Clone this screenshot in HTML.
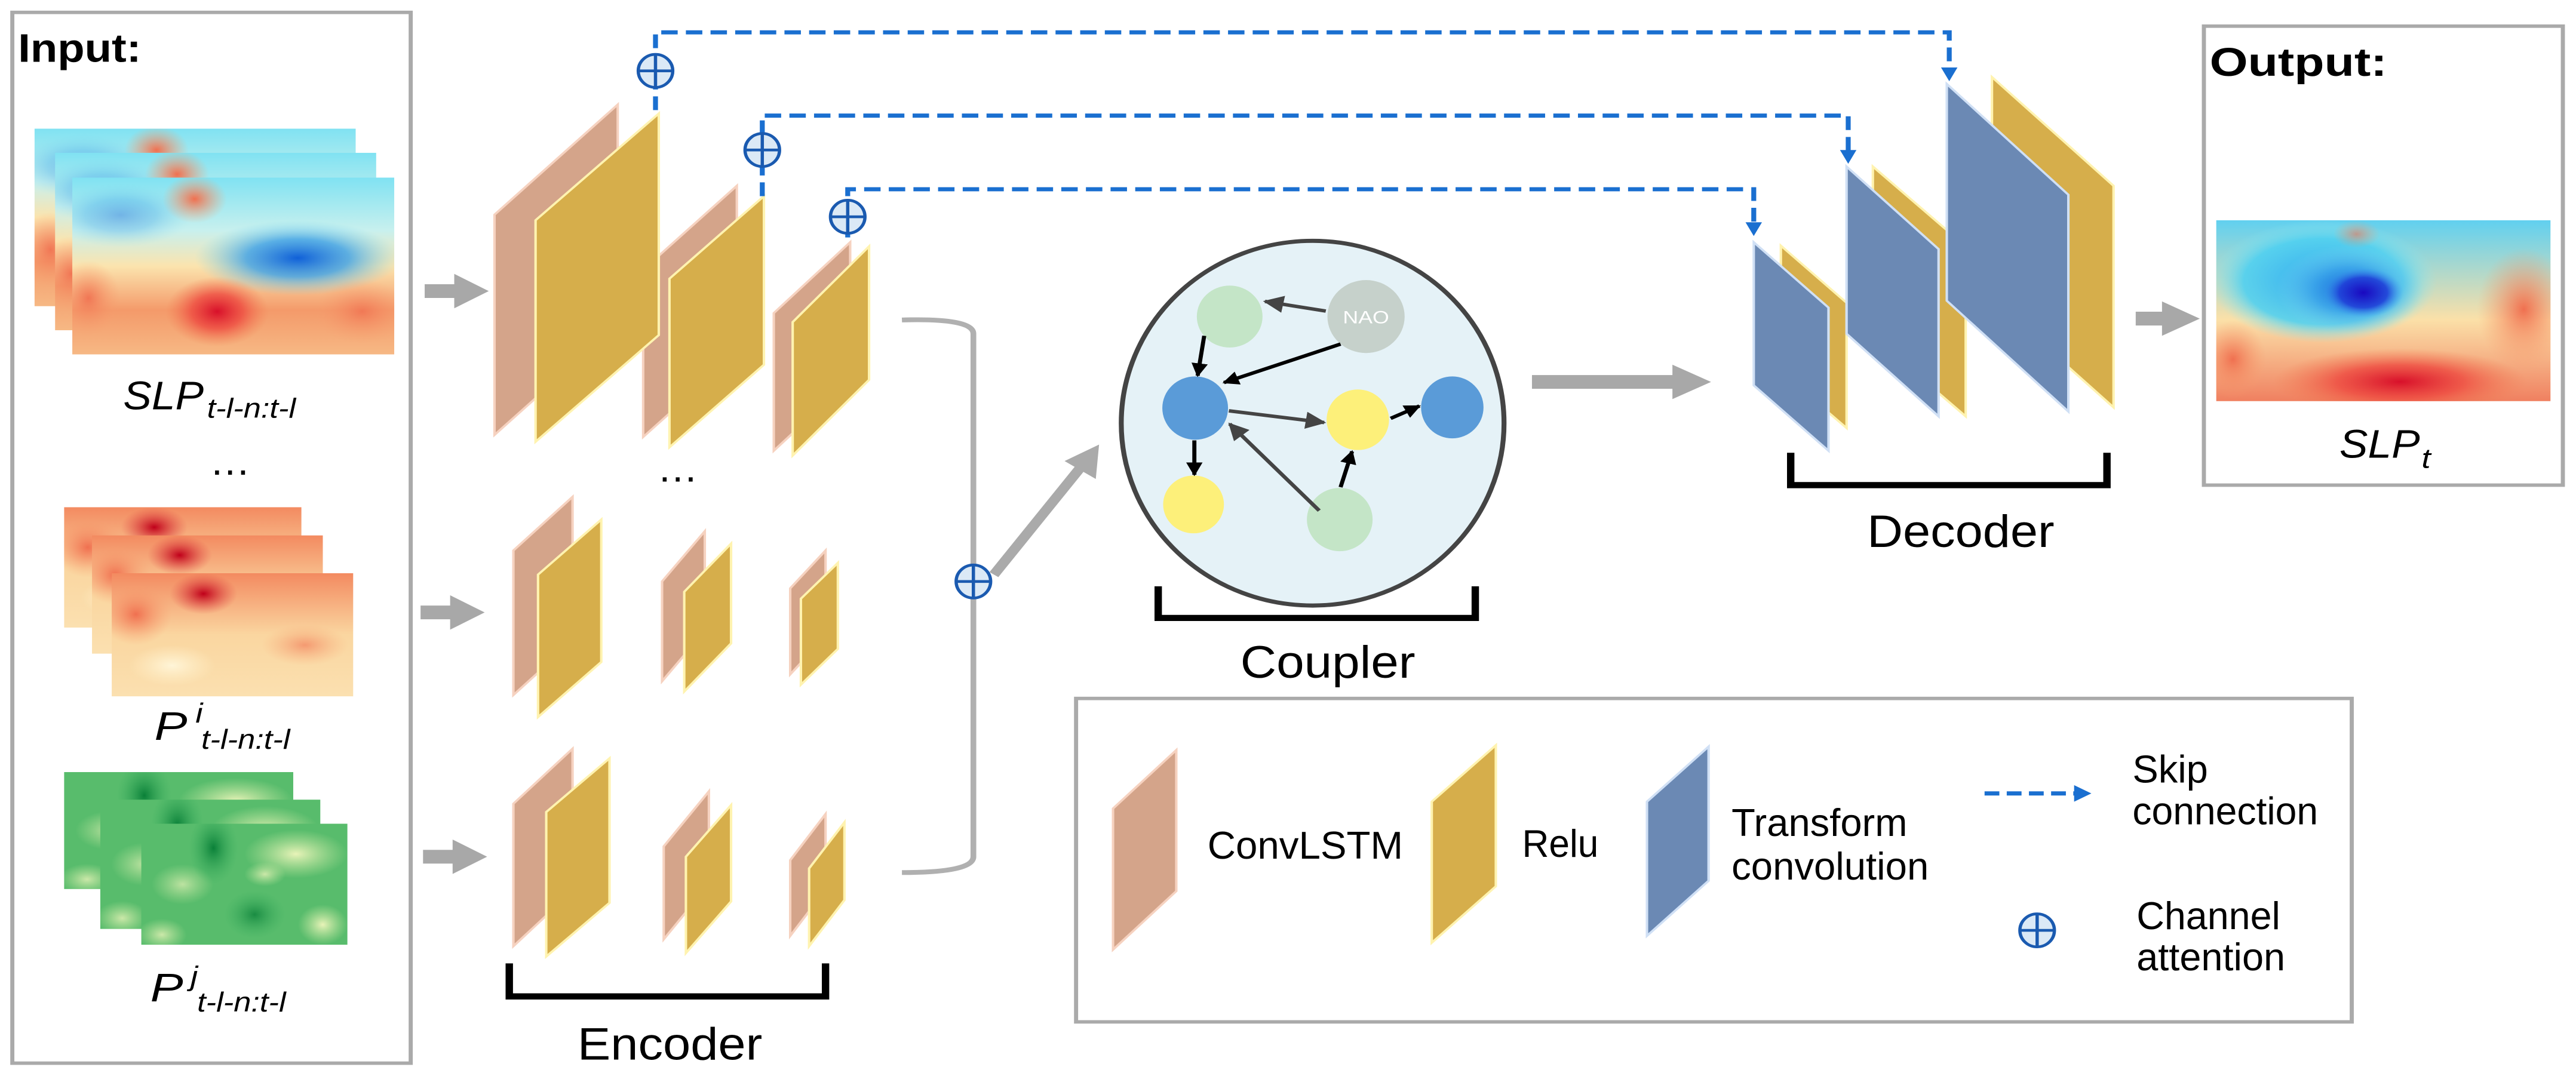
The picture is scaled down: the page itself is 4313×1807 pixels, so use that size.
<!DOCTYPE html>
<html><head><meta charset="utf-8"><style>
html,body{margin:0;padding:0;background:#fff;}
svg{display:block;}
text{font-family:"Liberation Sans",sans-serif;}
</style></head><body>
<svg width="4313" height="1807" viewBox="0 0 3136 1568" preserveAspectRatio="none" xmlns="http://www.w3.org/2000/svg">
<defs>
<linearGradient id="slpBase" x1="0" y1="0" x2="0" y2="1">
<stop offset="0" stop-color="#80e2f2"/><stop offset="0.3" stop-color="#c8f0ee"/><stop offset="0.5" stop-color="#fbe4ae"/><stop offset="0.75" stop-color="#f49a6a"/><stop offset="1" stop-color="#f6b884"/></linearGradient>
<radialGradient id="rBlue"><stop offset="0" stop-color="#1060d8"/><stop offset="0.5" stop-color="#3aa0e8" stop-opacity="0.8"/><stop offset="1" stop-color="#7fd8ee" stop-opacity="0"/></radialGradient>
<radialGradient id="rRed"><stop offset="0" stop-color="#d8102a"/><stop offset="0.5" stop-color="#ee4a40" stop-opacity="0.8"/><stop offset="1" stop-color="#f27a50" stop-opacity="0"/></radialGradient>
<radialGradient id="rOr"><stop offset="0" stop-color="#f07050"/><stop offset="1" stop-color="#f8a070" stop-opacity="0"/></radialGradient>
<radialGradient id="rPale"><stop offset="0" stop-color="#fff5d8"/><stop offset="1" stop-color="#fff0c8" stop-opacity="0"/></radialGradient>
<radialGradient id="rNavy"><stop offset="0" stop-color="#1a08c0"/><stop offset="0.6" stop-color="#2040d8" stop-opacity="0.9"/><stop offset="1" stop-color="#40a0f0" stop-opacity="0"/></radialGradient>
<radialGradient id="rCyan"><stop offset="0" stop-color="#30a8f0"/><stop offset="0.7" stop-color="#50d0f0" stop-opacity="0.9"/><stop offset="1" stop-color="#90e8f0" stop-opacity="0"/></radialGradient>
<radialGradient id="rDk"><stop offset="0" stop-color="#c0001a"/><stop offset="1" stop-color="#e04040" stop-opacity="0"/></radialGradient>
<linearGradient id="pBase" x1="0" y1="0" x2="0" y2="1"><stop offset="0" stop-color="#f38a60"/><stop offset="0.5" stop-color="#fad6a0"/><stop offset="1" stop-color="#fbe0b0"/></linearGradient>
<linearGradient id="oBase" x1="0" y1="0" x2="0" y2="1"><stop offset="0" stop-color="#60d0f0"/><stop offset="0.55" stop-color="#fbe0a8"/><stop offset="1" stop-color="#f08060"/></linearGradient>
<radialGradient id="gDk"><stop offset="0" stop-color="#0a8038"/><stop offset="1" stop-color="#3ab060" stop-opacity="0"/></radialGradient>
<radialGradient id="gLt"><stop offset="0" stop-color="#e8f3b8"/><stop offset="1" stop-color="#c8e8a0" stop-opacity="0"/></radialGradient>

<symbol id="slp" viewBox="0 0 100 66" preserveAspectRatio="none">
<rect width="100" height="66" fill="url(#slpBase)"/>
<ellipse cx="70" cy="30" rx="32" ry="14" fill="url(#rBlue)"/>
<ellipse cx="15" cy="14" rx="22" ry="12" fill="url(#rBlue)" opacity="0.4"/>
<ellipse cx="45" cy="50" rx="16" ry="13" fill="url(#rRed)"/>
<ellipse cx="38" cy="8" rx="10" ry="9" fill="url(#rOr)"/>
<ellipse cx="90" cy="50" rx="15" ry="12" fill="url(#rOr)" opacity="0.8"/>
<ellipse cx="5" cy="45" rx="10" ry="14" fill="url(#rOr)" opacity="0.9"/>
</symbol>
<symbol id="pimg" viewBox="0 0 100 60" preserveAspectRatio="none">
<rect width="100" height="60" fill="url(#pBase)"/>
<ellipse cx="38" cy="10" rx="14" ry="10" fill="url(#rDk)"/>
<ellipse cx="10" cy="20" rx="15" ry="15" fill="url(#rOr)"/>
<ellipse cx="80" cy="35" rx="18" ry="10" fill="url(#rOr)" opacity="0.6"/>
<ellipse cx="25" cy="45" rx="18" ry="10" fill="url(#rPale)"/>
</symbol>
<symbol id="gimg" viewBox="0 0 100 60" preserveAspectRatio="none">
<rect width="100" height="60" fill="#58bc6c"/>
<ellipse cx="75" cy="15" rx="25" ry="12" fill="url(#gLt)"/>
<ellipse cx="20" cy="30" rx="15" ry="10" fill="url(#gLt)" opacity="0.7"/>
<ellipse cx="35" cy="12" rx="12" ry="18" fill="url(#gDk)"/>
<ellipse cx="55" cy="45" rx="15" ry="12" fill="url(#gDk)" opacity="0.8"/>
<ellipse cx="88" cy="50" rx="12" ry="10" fill="url(#gLt)"/>
<ellipse cx="10" cy="55" rx="12" ry="8" fill="url(#gLt)" opacity="0.8"/>
<ellipse cx="60" cy="25" rx="10" ry="6" fill="url(#gLt)" opacity="0.8"/>
</symbol>
<symbol id="outimg" viewBox="0 0 100 65" preserveAspectRatio="none">
<rect width="100" height="65" fill="url(#oBase)"/>
<ellipse cx="32" cy="22" rx="34" ry="22" fill="url(#rCyan)"/>
<ellipse cx="40" cy="25" rx="22" ry="16" fill="url(#rBlue)"/>
<ellipse cx="44" cy="26" rx="12" ry="9" fill="url(#rNavy)"/>
<ellipse cx="55" cy="58" rx="38" ry="12" fill="url(#rRed)"/>
<ellipse cx="92" cy="32" rx="14" ry="22" fill="url(#rOr)"/>
<ellipse cx="5" cy="50" rx="10" ry="14" fill="url(#rOr)"/>
<ellipse cx="42" cy="5" rx="7" ry="5" fill="url(#rOr)" opacity="0.6"/>
</symbol>
<symbol id="oplus" viewBox="-25 -27 50 54" preserveAspectRatio="none">
<ellipse cx="0" cy="0" rx="21" ry="24" fill="#dbe9f6" stroke="#1a5ab0" stroke-width="4"/>
<line x1="-21" y1="0" x2="21" y2="0" stroke="#1a5ab0" stroke-width="4"/>
<line x1="0" y1="-24" x2="0" y2="24" stroke="#1a5ab0" stroke-width="4"/>
</symbol>
<marker id="ak" viewBox="0 0 10 10" refX="9" refY="5" markerWidth="4" markerHeight="4" orient="auto"><path d="M0,0 L10,5 L0,10 z" fill="#000"/></marker>
<marker id="ag" viewBox="0 0 10 10" refX="9" refY="5" markerWidth="5" markerHeight="5" orient="auto"><path d="M0,0 L10,5 L0,10 z" fill="#444"/></marker>
</defs>

<rect x="15" y="18" width="485" height="1527" fill="none" stroke="#aaa" stroke-width="5"/>
<text x="22" y="90" font-size="58" font-weight="bold" textLength="150" lengthAdjust="spacingAndGlyphs">Input:</text>
<use href="#slp" x="42" y="187" width="391" height="258"/>
<use href="#slp" x="67" y="222" width="391" height="258"/>
<use href="#slp" x="88" y="258" width="392" height="257"/>
<text x="150" y="595" font-size="58" font-style="italic" textLength="98" lengthAdjust="spacingAndGlyphs">SLP</text>
<text x="252" y="607" font-size="40" font-style="italic" textLength="108" lengthAdjust="spacingAndGlyphs">t-l-n:t-l</text>
<text x="255" y="690" font-size="58" textLength="50" lengthAdjust="spacingAndGlyphs">…</text>
<use href="#pimg" x="78" y="737" width="289" height="175"/>
<use href="#pimg" x="112" y="778" width="281" height="172"/>
<use href="#pimg" x="136" y="833" width="294" height="179"/>
<text x="188" y="1075" font-size="58" font-style="italic" textLength="40" lengthAdjust="spacingAndGlyphs">P</text>
<text x="238" y="1050" font-size="40" font-style="italic">i</text>
<text x="245" y="1088" font-size="40" font-style="italic" textLength="108" lengthAdjust="spacingAndGlyphs">t-l-n:t-l</text>
<use href="#gimg" x="78" y="1122" width="279" height="170"/>
<use href="#gimg" x="122" y="1162" width="268" height="188"/>
<use href="#gimg" x="172" y="1197" width="251" height="176"/>
<text x="183" y="1455" font-size="58" font-style="italic" textLength="40" lengthAdjust="spacingAndGlyphs">P</text>
<text x="232" y="1432" font-size="40" font-style="italic">j</text>
<text x="240" y="1470" font-size="40" font-style="italic" textLength="108" lengthAdjust="spacingAndGlyphs">t-l-n:t-l</text>

<g fill="#a8a8a8">
<polygon points="517,413 553,413 553,398 595,423 553,448 553,433 517,433"/>
<polygon points="512,880 548,880 548,865 590,890 548,915 548,900 512,900"/>
<polygon points="515,1235 551,1235 551,1220 593,1245 551,1270 551,1255 515,1255"/>
</g>

<g stroke-width="3">
<g fill="#d4a48a" stroke="#f6d2c0">
<polygon points="602,312 752,152 752,472 602,632"/>
<polygon points="783,392 897,270 897,513 783,635"/>
<polygon points="942,455 1035,352 1035,552 942,655"/>
<polygon points="625,800 697,722 697,932 625,1010"/>
<polygon points="806,845 858,772 858,917 806,990"/>
<polygon points="962,855 1005,800 1005,925 962,980"/>
<polygon points="625,1168 697,1088 697,1295 625,1375"/>
<polygon points="808,1230 863,1150 863,1285 808,1365"/>
<polygon points="962,1250 1005,1183 1005,1293 962,1360"/>
</g>
<g fill="#d6ae4b" stroke="#fff3b0">
<polygon points="652,320 802,165 802,487 652,642"/>
<polygon points="815,405 930,285 930,530 815,650"/>
<polygon points="965,468 1058,358 1058,552 965,662"/>
<polygon points="655,835 732,755 732,962 655,1042"/>
<polygon points="833,860 890,790 890,935 833,1005"/>
<polygon points="975,870 1020,818 1020,943 975,995"/>
<polygon points="665,1180 742,1102 742,1312 665,1390"/>
<polygon points="835,1245 890,1170 890,1310 835,1385"/>
<polygon points="985,1262 1028,1195 1028,1308 985,1375"/>
</g>
</g>
<text x="800" y="700" font-size="58" textLength="50" lengthAdjust="spacingAndGlyphs">…</text>
<path d="M620 1400 V1448 H1005 V1400" fill="none" stroke="#000" stroke-width="9"/>
<text x="703" y="1540" font-size="66" textLength="225" lengthAdjust="spacingAndGlyphs">Encoder</text>

<path d="M1098 465 Q1185 462 1185 485 V1245 Q1185 1268 1098 1268" fill="none" stroke="#b0b0b0" stroke-width="7"/>
<line x1="1210" y1="835" x2="1315" y2="680" stroke="#aaa" stroke-width="13"/>
<polygon points="1338,646 1296,670 1334,696" fill="#aaa"/>
<use href="#oplus" x="1160" y="818" width="50" height="54"/>

<g fill="none" stroke="#1a6fd0" stroke-width="6" stroke-dasharray="20 10">
<path d="M798 160 V47 H2373 V105"/>
<path d="M928 285 V168 H2250 V225"/>
<path d="M1032 345 V275 H2135 V330"/>
</g>
<g fill="#1a6fd0">
<polygon points="2363,98 2383,98 2373,118"/>
<polygon points="2240,218 2260,218 2250,238"/>
<polygon points="2125,323 2145,323 2135,343"/>
</g>
<use href="#oplus" x="773" y="76" width="50" height="54"/>
<use href="#oplus" x="903" y="191" width="50" height="54"/>
<use href="#oplus" x="1007" y="288" width="50" height="54"/>

<ellipse cx="1598" cy="615" rx="233" ry="265" fill="#e5f2f7" stroke="#444" stroke-width="6"/>
<ellipse cx="1497" cy="460" rx="40" ry="45" fill="#c4e5c7"/>
<ellipse cx="1663" cy="460" rx="47" ry="53" fill="#c6d1cb"/>
<text x="1663" y="470" font-size="26" fill="#fff" text-anchor="middle">NAO</text>
<ellipse cx="1455" cy="593" rx="40" ry="46" fill="#5a9bd8"/>
<ellipse cx="1653" cy="610" rx="38" ry="44" fill="#fdf07a"/>
<ellipse cx="1768" cy="592" rx="38" ry="45" fill="#5a9bd8"/>
<ellipse cx="1453" cy="733" rx="37" ry="42" fill="#fdf07a"/>
<ellipse cx="1631" cy="755" rx="40" ry="46" fill="#c4e5c7"/>
<g stroke-width="5" fill="none">
<line x1="1614" y1="452" x2="1540" y2="438" stroke="#444" marker-end="url(#ag)"/>
<line x1="1632" y1="500" x2="1490" y2="556" stroke="#000" marker-end="url(#ak)"/>
<line x1="1466" y1="488" x2="1458" y2="546" stroke="#000" marker-end="url(#ak)"/>
<line x1="1496" y1="597" x2="1612" y2="614" stroke="#444" marker-end="url(#ag)"/>
<line x1="1454" y1="640" x2="1454" y2="690" stroke="#000" marker-end="url(#ak)"/>
<line x1="1606" y1="742" x2="1497" y2="616" stroke="#444" marker-end="url(#ag)"/>
<line x1="1632" y1="708" x2="1646" y2="656" stroke="#000" marker-end="url(#ak)"/>
<line x1="1693" y1="608" x2="1728" y2="590" stroke="#000" marker-end="url(#ak)"/>
</g>
<path d="M1410 852 V898 H1796 V852" fill="none" stroke="#000" stroke-width="9"/>
<text x="1510" y="985" font-size="66" textLength="213" lengthAdjust="spacingAndGlyphs">Coupler</text>

<polygon points="1865,545 2036,545 2036,530 2083,555 2036,580 2036,565 1865,565" fill="#a8a8a8"/>

<g stroke-width="3">
<polygon points="2168,357 2248,440 2248,622 2168,540" fill="#d6ae4b" stroke="#fff3b0"/>
<polygon points="2135,352 2226,447 2226,655 2135,560" fill="#6b89b4" stroke="#d0e0f5"/>
<polygon points="2280,242 2393,358 2393,605 2280,489" fill="#d6ae4b" stroke="#fff3b0"/>
<polygon points="2248,242 2360,362 2360,605 2248,485" fill="#6b89b4" stroke="#d0e0f5"/>
<polygon points="2425,112 2573,270 2573,592 2425,434" fill="#d6ae4b" stroke="#fff3b0"/>
<polygon points="2370,122 2518,283 2518,598 2370,437" fill="#6b89b4" stroke="#d0e0f5"/>
</g>
<path d="M2180 658 V705 H2565 V658" fill="none" stroke="#000" stroke-width="9"/>
<text x="2273" y="795" font-size="66" textLength="228" lengthAdjust="spacingAndGlyphs">Decoder</text>

<polygon points="2600,453 2632,453 2632,438 2678,463 2632,488 2632,473 2600,473" fill="#a8a8a8"/>

<rect x="2683" y="38" width="437" height="667" fill="none" stroke="#aaa" stroke-width="5"/>
<text x="2690" y="110" font-size="58" font-weight="bold" textLength="216" lengthAdjust="spacingAndGlyphs">Output:</text>
<use href="#outimg" x="2698" y="320" width="407" height="263"/>
<text x="2848" y="665" font-size="58" font-style="italic" textLength="98" lengthAdjust="spacingAndGlyphs">SLP</text>
<text x="2948" y="680" font-size="40" font-style="italic">t</text>

<rect x="1310" y="1015" width="1553" height="470" fill="none" stroke="#aaa" stroke-width="5"/>
<polygon points="1355,1175 1432,1090 1432,1295 1355,1380" fill="#d4a48a" stroke="#f6d2c0" stroke-width="3"/>
<text x="1470" y="1248" font-size="56" textLength="238" lengthAdjust="spacingAndGlyphs">ConvLSTM</text>
<polygon points="1743,1165 1821,1083 1821,1288 1743,1370" fill="#d6ae4b" stroke="#fff3b0" stroke-width="3"/>
<text x="1853" y="1245" font-size="56" textLength="93" lengthAdjust="spacingAndGlyphs">Relu</text>
<polygon points="2005,1165 2080,1085 2080,1280 2005,1360" fill="#6b89b4" stroke="#d0e0f5" stroke-width="3"/>
<text x="2108" y="1215" font-size="56" textLength="214" lengthAdjust="spacingAndGlyphs">Transform</text>
<text x="2108" y="1278" font-size="56" textLength="240" lengthAdjust="spacingAndGlyphs">convolution</text>
<line x1="2416" y1="1153" x2="2528" y2="1153" stroke="#1a6fd0" stroke-width="6" stroke-dasharray="18 9"/>
<polygon points="2525,1141 2546,1153 2525,1165" fill="#1a6fd0"/>
<text x="2596" y="1137" font-size="56" textLength="92" lengthAdjust="spacingAndGlyphs">Skip</text>
<text x="2596" y="1198" font-size="56" textLength="226" lengthAdjust="spacingAndGlyphs">connection</text>
<use href="#oplus" x="2455" y="1325" width="50" height="54"/>
<text x="2601" y="1350" font-size="56" textLength="175" lengthAdjust="spacingAndGlyphs">Channel</text>
<text x="2601" y="1410" font-size="56" textLength="181" lengthAdjust="spacingAndGlyphs">attention</text>
</svg>
</body></html>
